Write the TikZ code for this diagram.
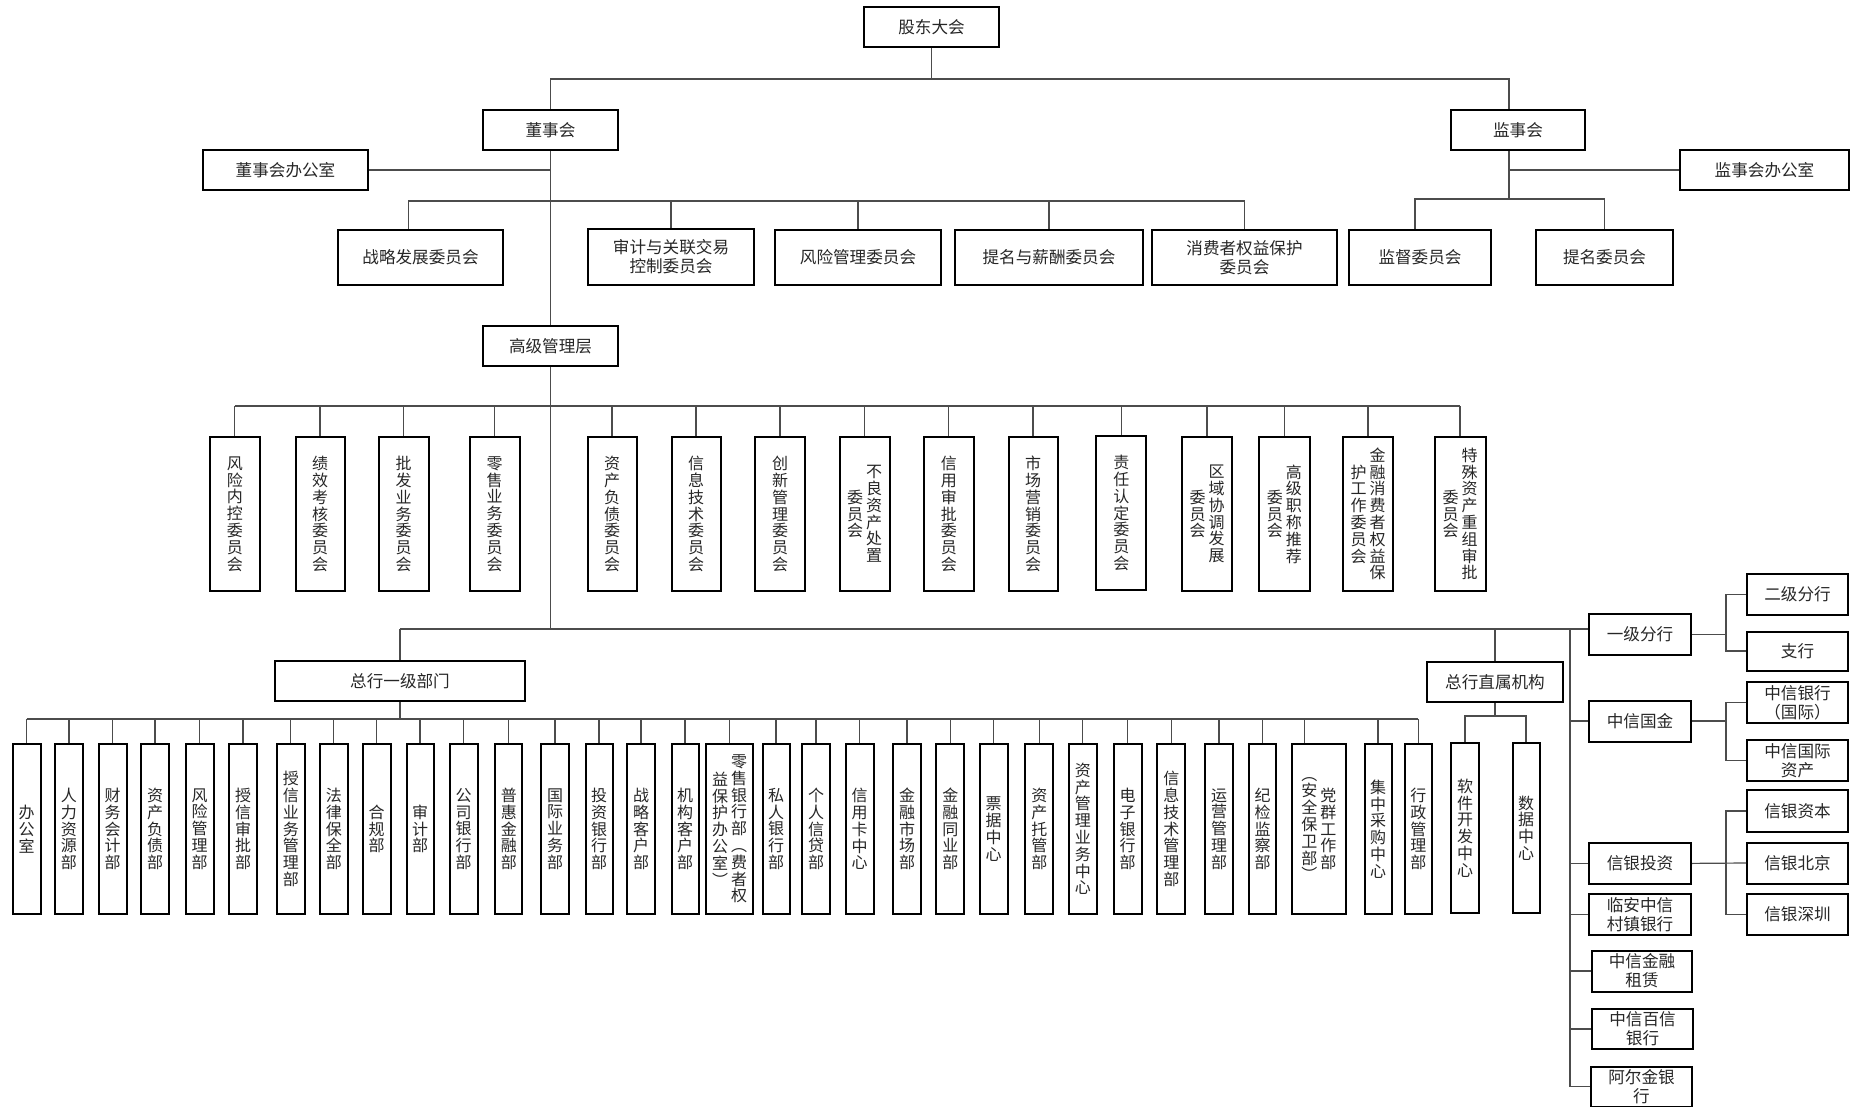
\documentclass[tikz,border=0pt]{standalone}
\usepackage{fontspec}
\setmainfont{Noto Sans CJK SC}
\usetikzlibrary{positioning,calc}

% vertical column of characters, and two columns (first one on the right)
\ExplSyntaxOn
\NewDocumentCommand{\vcol}{m}
  {
    \ensuremath{\vcenter{\baselineskip=8.4pt \tl_map_inline:nn {#1} { \hbox{##1} } }}
  }
\NewDocumentCommand{\vtwo}{mm}{ \vcol{#2} \hspace{1.5pt} \vcol{#1} }
\ExplSyntaxOff

\begin{document}
\begin{tikzpicture}[x=0.5pt, y=-0.5pt,
    orgbox/.style 2 args={draw=black, line width=1pt, inner sep=0pt, align=center, text=black!85,
        font=\fontsize{8.3}{9.6}\selectfont, minimum width=#1*0.5pt, minimum height=#2*0.5pt},
    colbox/.style 2 args={orgbox={#1}{#2}, font=\fontsize{8}{8.4}\selectfont},
    link/.style={draw=black!70, line width=0.6pt}]
    \useasboundingbox (0,0) rectangle (1857,1107);

    % Shareholders, boards and offices
    \node[orgbox={135}{40}] (gd) at (931.5,27) {股东大会};
    \node[orgbox={135}{40}] (dsh) at (550.5,130) {董事会};
    \node[orgbox={134}{40}] (jsh) at (1518,130) {监事会};
    \node[orgbox={165}{40}] (dshbgs) at (285.5,170) {董事会办公室};
    \node[orgbox={169}{40}] (jshbgs) at (1764.5,170) {监事会办公室};

    % Board committees
    \node[orgbox={165}{55}] (zlfz) at (420.5,257.5) {战略发展委员会};
    \node[orgbox={166}{56}] (sjgl) at (671,257) {审计与关联交易\\控制委员会};
    \node[orgbox={166}{55}] (fxgl) at (858,257.5) {风险管理委员会};
    \node[orgbox={188}{55}] (tmxc) at (1049,257.5) {提名与薪酬委员会};
    \node[orgbox={185}{55}] (xfqy) at (1244.5,257.5) {消费者权益保护\\委员会};
    \node[orgbox={142}{55}] (jdwy) at (1420,257.5) {监督委员会};
    \node[orgbox={137}{55}] (tmwy) at (1604.5,257.5) {提名委员会};

    % Senior management and its committees
    \node[orgbox={135}{40}] (gjgl) at (550.5,346) {高级管理层};
    \node[colbox={50}{154}] (s1) at (234.8,514) {\vcol{风险内控委员会}};
    \node[colbox={49}{154}] (s2) at (320,514) {\vcol{绩效考核委员会}};
    \node[colbox={50}{154}] (s3) at (403.5,514) {\vcol{批发业务委员会}};
    \node[colbox={50}{154}] (s4) at (494.5,514) {\vcol{零售业务委员会}};
    \node[colbox={49}{154}] (s5) at (612,514) {\vcol{资产负债委员会}};
    \node[colbox={49}{154}] (s6) at (696,514) {\vcol{信息技术委员会}};
    \node[colbox={50}{154}] (s7) at (780,514) {\vcol{创新管理委员会}};
    \node[colbox={50}{154}] (s8) at (864.6,514) {\vtwo{不良资产处置}{委员会}};
    \node[colbox={50}{154}] (s9) at (948.8,514) {\vcol{信用审批委员会}};
    \node[colbox={49}{154}] (s10) at (1033,514) {\vcol{市场营销委员会}};
    \node[colbox={50}{154}] (s11) at (1121.3,513) {\vcol{责任认定委员会}};
    \node[colbox={50}{154}] (s12) at (1207,514) {\vtwo{区域协调发展}{委员会}};
    \node[colbox={51}{154}] (s13) at (1284.4,514) {\vtwo{高级职称推荐}{委员会}};
    \node[colbox={50}{154}] (s14) at (1368,514) {\vtwo{金融消费者权益保}{护工作委员会}};
    \node[colbox={51}{154}] (s15) at (1460,514) {\vtwo{特殊资产重组审批}{委员会}};

    % Head office
    \node[orgbox={250}{40}] (zhyj) at (400,681) {总行一级部门};
    \node[orgbox={136}{40}] (zhzs) at (1495,682) {总行直属机构};

    % First-level departments
    \node[colbox={28}{170}] (d1) at (26.5,829) {\vcol{办公室}};
    \node[colbox={28}{170}] (d2) at (69,829) {\vcol{人力资源部}};
    \node[colbox={28}{170}] (d3) at (112.6,829) {\vcol{财务会计部}};
    \node[colbox={28}{170}] (d4) at (155,829) {\vcol{资产负债部}};
    \node[colbox={28}{170}] (d5) at (199.5,829) {\vcol{风险管理部}};
    \node[colbox={28}{170}] (d6) at (243,829) {\vcol{授信审批部}};
    \node[colbox={28}{170}] (d7) at (290.8,829) {\vcol{授信业务管理部}};
    \node[colbox={28}{170}] (d8) at (333.8,829) {\vcol{法律保全部}};
    \node[colbox={28}{170}] (d9) at (376.6,829) {\vcol{合规部}};
    \node[colbox={27}{170}] (d10) at (420,829) {\vcol{审计部}};
    \node[colbox={28}{170}] (d11) at (463.7,829) {\vcol{公司银行部}};
    \node[colbox={27}{170}] (d12) at (508.8,829) {\vcol{普惠金融部}};
    \node[colbox={28}{170}] (d13) at (555,829) {\vcol{国际业务部}};
    \node[colbox={27}{170}] (d14) at (599,829) {\vcol{投资银行部}};
    \node[colbox={28}{170}] (d15) at (641,829) {\vcol{战略客户部}};
    \node[colbox={27}{170}] (d16) at (685,829) {\vcol{机构客户部}};
    \node[colbox={47}{170}] (d17) at (729.5,829) {\vtwo{零售银行部︵费者权}{益保护办公室︶}};
    \node[colbox={27}{170}] (d18) at (776,829) {\vcol{私人银行部}};
    \node[colbox={28}{170}] (d19) at (816,829) {\vcol{个人信贷部}};
    \node[colbox={28}{170}] (d20) at (859.7,829) {\vcol{信用卡中心}};
    \node[colbox={28}{170}] (d21) at (907,829) {\vcol{金融市场部}};
    \node[colbox={28}{170}] (d22) at (950.4,829) {\vcol{金融同业部}};
    \node[colbox={28}{170}] (d23) at (993.5,829) {\vcol{票据中心}};
    \node[colbox={28}{170}] (d24) at (1039.3,829) {\vcol{资产托管部}};
    \node[colbox={28}{170}] (d25) at (1082.8,829) {\vcol{资产管理业务中心}};
    \node[colbox={28}{170}] (d26) at (1127.7,829) {\vcol{电子银行部}};
    \node[colbox={28}{170}] (d27) at (1171.4,829) {\vcol{信息技术管理部}};
    \node[colbox={28}{170}] (d28) at (1219,829) {\vcol{运营管理部}};
    \node[colbox={27}{170}] (d29) at (1262.5,829) {\vcol{纪检监察部}};
    \node[colbox={54}{170}] (d30) at (1318.8,829) {\vtwo{党群工作部}{︵安全保卫部︶}};
    \node[colbox={27}{170}] (d31) at (1378,829) {\vcol{集中采购中心}};
    \node[colbox={27}{170}] (d32) at (1418.3,829) {\vcol{行政管理部}};

    % Directly affiliated units
    \node[colbox={28}{170}] (rjkf) at (1465,828) {\vcol{软件开发中心}};
    \node[colbox={27}{170}] (sjzx) at (1526,828) {\vcol{数据中心}};

    % Branches and subsidiaries
    \node[orgbox={102}{41}] (yjfh) at (1640,634.5) {一级分行};
    \node[orgbox={101}{41}] (ejfh) at (1797.5,594.5) {二级分行};
    \node[orgbox={101}{39}] (zhih) at (1797.5,651) {支行};
    \node[orgbox={102}{41}] (zxgj) at (1640,721) {中信国金};
    \node[orgbox={101}{41}] (zxyh) at (1797.5,702.5) {中信银行\\（国际）};
    \node[orgbox={101}{41}] (zxzc) at (1797.5,760.8) {中信国际\\资产};
    \node[orgbox={101}{42}] (xyzb) at (1797.5,811) {信银资本};
    \node[orgbox={101}{41}] (xybj) at (1797.5,863) {信银北京};
    \node[orgbox={101}{41}] (xysz) at (1797.5,914.4) {信银深圳};
    \node[orgbox={102}{41}] (xytz) at (1640,863.4) {信银投资};
    \node[orgbox={102}{41}] (lazx) at (1640,914.4) {临安中信\\村镇银行};
    \node[orgbox={100}{41}] (zxzl) at (1642,971) {中信金融\\租赁};
    \node[orgbox={101}{40}] (zxbx) at (1642.5,1029) {中信百信\\银行};
    \node[orgbox={101}{40}] (aejy) at (1641.5,1086.5) {阿尔金银\\行};

    % Bus levels and vertical rails
    \coordinate (busT) at (0,79);
    \coordinate (busC) at (0,201);
    \coordinate (busJ) at (0,199);
    \coordinate (busS) at (0,406);
    \coordinate (busM) at (0,629);
    \coordinate (busZ) at (0,716);
    \coordinate (busD) at (0,719);
    \coordinate (jx) at (1509,0);
    \coordinate (vR) at (1570,0);
    \coordinate (vA) at (1726,0);

    % Top connectors
    \draw[link] (gd.south) -- (gd.south |- busT);
    \draw[link] (dsh.north) -- (dsh.north |- busT) -- (jx |- busT) -- (jx |- jsh.north);
    \draw[link] (dsh.south) -- (gjgl.north);
    \draw[link] (dshbgs.east) -- (dshbgs.east -| dsh.south);
    \draw[link] ([xshift=-6pt]zlfz.north) -- ([xshift=-6pt]zlfz.north |- busC) -- (xfqy.north |- busC);
    \foreach \n in {sjgl,fxgl,tmxc,xfqy}
        \draw[link] (\n.north) -- (\n.north |- busC);
    \draw[link] (jx |- jsh.south) -- (jx |- busJ);
    \draw[link] (jshbgs.west) -- (jshbgs.west -| jx);
    \draw[link] ([xshift=-2.5pt]jdwy.north) -- ([xshift=-2.5pt]jdwy.north |- busJ) -- (tmwy.north |- busJ) -- (tmwy.north);

    % Senior management connectors
    \draw[link] (gjgl.south) -- (gjgl.south |- busM);
    \draw[link] (s1.north |- busS) -- (s15.north |- busS);
    \foreach \i in {1,...,15}
        \draw[link] (s\i.north) -- (s\i.north |- busS);

    % Head office connectors
    \draw[link] (zhyj.north |- busM) -- (busM -| yjfh.west);
    \draw[link] (zhyj.north) -- (zhyj.north |- busM);
    \draw[link] (zhzs.north) -- (zhzs.north |- busM);
    \draw[link] (zhyj.south) -- (zhyj.south |- busD);
    \draw[link] (d1.north |- busD) -- (d32.north |- busD);
    \foreach \i in {1,...,29,31,32}
        \draw[link] (d\i.north) -- (d\i.north |- busD);
    \draw[link] ([xshift=-7pt]d30.north) -- ([xshift=-7pt]d30.north |- busD);
    \draw[link] (zhzs.south) -- (zhzs.south |- busZ);
    \draw[link] (rjkf.north) -- (rjkf.north |- busZ) -- (sjzx.north |- busZ) -- (sjzx.north);

    % Branch and subsidiary connectors
    \draw[link] (vR |- busM) -- (vR |- aejy.west);
    \foreach \n in {zxgj,xytz,lazx,zxzl,zxbx,aejy}
        \draw[link] (vR |- \n.west) -- (\n.west);
    \draw[link] (yjfh.east) -- (vA |- yjfh.east);
    \draw[link] (ejfh.west) -| (vA |- zhih.west) -- (zhih.west);
    \draw[link] (zxgj.east) -- (vA |- zxgj.east);
    \draw[link] (zxyh.west) -| (vA |- zxzc.west) -- (zxzc.west);
    \draw[link] (xyzb.west) -| (vA |- xysz.west) -- (xysz.west);
    \draw[link] (xytz.east) -- (xybj.west);
\end{tikzpicture}
\end{document}
